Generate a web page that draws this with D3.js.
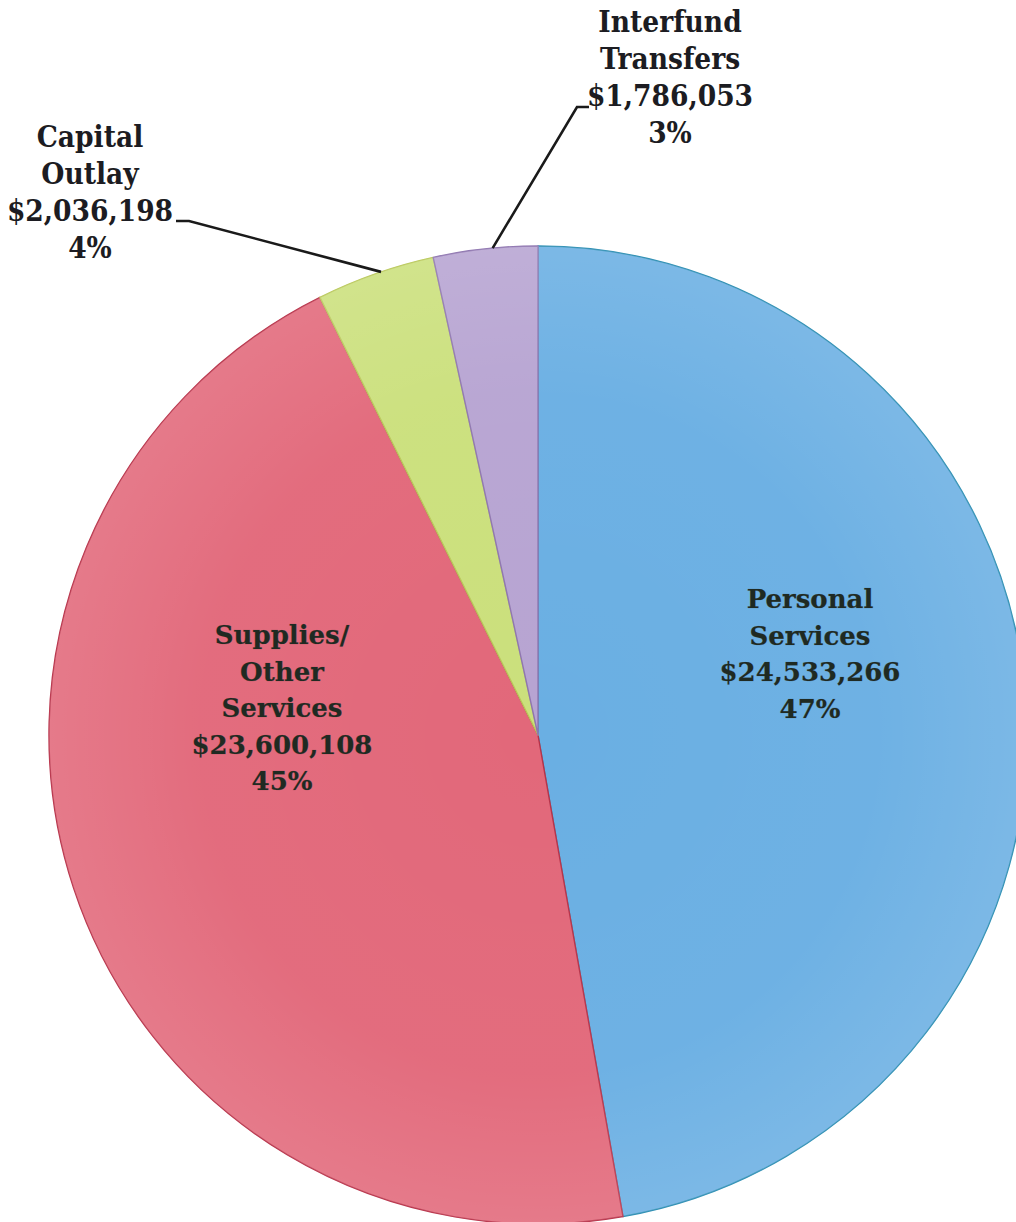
<!DOCTYPE html>
<html>
<head>
<meta charset="utf-8">
<script src="https://cdn.jsdelivr.net/npm/d3@7"></script>
<style>
  html, body { margin: 0; padding: 0; background: #ffffff; }
  svg { display: block; }
</style>
</head>
<body>
<svg id="chart" width="1016" height="1222"></svg>
<script>
// Expenditure categories, clockwise from 12 o'clock
const categories = ["Personal Services", "Supplies/ Other Services", "Capital Outlay", "Interfund Transfers"];
const amounts = [24533266, 23600108, 2036198, 1786053];
const labelLines = [["Personal", "Services"], ["Supplies/", "Other", "Services"], ["Capital", "Outlay"], ["Interfund", "Transfers"]];
const fillColors = ["#6aafe3", "#e2687a", "#cbe07c", "#b7a4d2"];
const edgeColors = ["#2f8fb4", "#b8334a", "#b9c85a", "#8f76b0"];

const svg = d3.select("#chart");
const cx = 538, cy = 735, R = 489;

const total = d3.sum(amounts);
const data = amounts.map((v, i) => ({ name: categories[i], value: v, lines: labelLines[i], i }));

const pie = d3.pie().value(d => d.value).sort(null);
const arcs = pie(data);
const arc = d3.arc().innerRadius(0).outerRadius(R);

const money = d3.format("$,");
const pct = d3.format(".0%");

// soft lightening toward the rim
const defs = svg.append("defs");
const rg = defs.append("radialGradient").attr("id", "rimShade")
  .attr("cx", 0).attr("cy", 0).attr("r", R).attr("gradientUnits", "userSpaceOnUse");
rg.append("stop").attr("offset", "0%").attr("stop-color", "#ffffff").attr("stop-opacity", 0);
rg.append("stop").attr("offset", "70%").attr("stop-color", "#ffffff").attr("stop-opacity", 0.03);
rg.append("stop").attr("offset", "100%").attr("stop-color", "#ffffff").attr("stop-opacity", 0.12);

const g = svg.append("g").attr("transform", `translate(${cx},${cy})`);

g.selectAll("path.slice").data(arcs).join("path")
  .attr("class", "slice")
  .attr("d", arc)
  .attr("fill", d => fillColors[d.data.i])
  .attr("stroke", d => edgeColors[d.data.i])
  .attr("stroke-width", 1.4)
  .attr("stroke-linejoin", "round");

g.selectAll("path.shade").data(arcs).join("path")
  .attr("class", "shade")
  .attr("d", arc)
  .attr("fill", "url(#rimShade)");

// Labels inside the two large slices
const insideFont = "'DejaVu Serif', 'Liberation Serif', serif";
const inside = [
  { i: 0, x: 810, y0: 608 },
  { i: 1, x: 282, y0: 644 }
];
const lh = 36.5;
inside.forEach(p => {
  const d = data[p.i];
  const lines = [...d.lines, money(d.value), pct(d.value / total)];
  const t = svg.append("text")
    .attr("font-family", insideFont)
    .attr("font-weight", "bold")
    .attr("font-size", 26)
    .attr("fill", "#1f2a22")
    .attr("text-anchor", "middle")
    .style("paint-order", "stroke")
    .attr("stroke", "rgba(40,40,40,0.3)")
    .attr("stroke-width", 0.7);
  lines.forEach((s, k) => {
    t.append("tspan").attr("x", p.x).attr("y", p.y0 + k * lh).text(s);
  });
});

// Labels outside the two small slices, with leader lines
const outsideFont = "'DejaVu Serif Condensed', 'DejaVu Serif', serif";
const outside = [
  { i: 2, x: 90, y0: 147, hook: [[176, 221], [189, 221]], along: 0.55 },
  { i: 3, x: 670, y0: 32, hook: [[589, 107], [577, 107]], along: 0.57 }
];
const olh = 37;
outside.forEach(p => {
  const d = data[p.i];
  const lines = [...d.lines, money(d.value), pct(d.value / total)];
  const t = svg.append("text")
    .attr("font-family", outsideFont)
    .attr("font-stretch", "condensed")
    .attr("font-weight", "bold")
    .attr("font-size", 29.5)
    .attr("fill", "#1c1c22")
    .attr("text-anchor", "middle");
  lines.forEach((s, k) => {
    t.append("tspan").attr("x", p.x).attr("y", p.y0 + k * olh).text(s);
  });

  // leader line ends on the rim, part way along the slice
  const a = arcs.find(e => e.data.i === p.i);
  const ang = a.startAngle + (a.endAngle - a.startAngle) * p.along;
  const ex = cx + R * Math.sin(ang);
  const ey = cy - R * Math.cos(ang);
  const pts = [p.hook[0], p.hook[1], [ex, ey]];
  svg.append("path")
    .attr("d", d3.line()(pts))
    .attr("fill", "none")
    .attr("stroke", "#1a1a1a")
    .attr("stroke-width", 2.6);
});
</script>
</body>
</html>
